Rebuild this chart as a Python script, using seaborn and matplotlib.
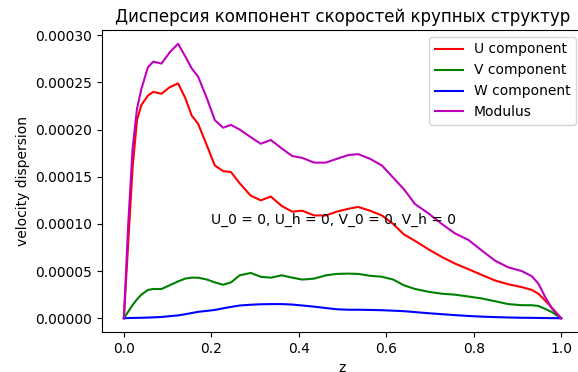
import matplotlib
matplotlib.use("Agg")
import matplotlib.pyplot as plt
import seaborn as sns
import pandas as pd

z = [0, 0.01, 0.02, 0.03, 0.04, 0.055, 0.067, 0.086, 0.105, 0.124, 0.14, 0.155, 0.17,
     0.19, 0.208, 0.227, 0.245, 0.265, 0.29, 0.313, 0.336, 0.361, 0.385, 0.408, 0.435,
     0.462, 0.487, 0.513, 0.536, 0.563, 0.59, 0.616, 0.64, 0.666, 0.697, 0.727, 0.757,
     0.788, 0.818, 0.849, 0.879, 0.91, 0.933, 0.948, 0.963, 0.979, 1.0]

u_comp = [0, 0.00008, 0.00016, 0.00021, 0.000226, 0.000236, 0.00024, 0.000238, 0.000245,
          0.000249, 0.000234, 0.000215, 0.000206, 0.000183, 0.000162, 0.000156, 0.000155,
          0.000143, 0.00013, 0.000125, 0.000129, 0.000119, 0.000113, 0.000114, 0.000109,
          0.000109, 0.000113, 0.000116, 0.000118, 0.000114, 0.000109, 0.0001, 0.000089,
          0.000082, 0.000073, 0.000065, 0.000058, 0.000052, 0.000046, 0.00004, 0.000036,
          0.000033, 0.00003, 0.000026, 0.000019, 0.000011, 0]

v_comp = [0, 0.000007, 0.000014, 0.00002, 0.000025, 0.00003, 0.000031, 0.000031, 0.000035,
          0.000039, 0.000042, 0.000043, 0.000043, 0.000041, 0.000038, 0.0000355, 0.000038,
          0.0000455, 0.000048, 0.000044, 0.000043, 0.0000455, 0.000043, 0.000041, 0.000042,
          0.0000455, 0.000047, 0.0000473, 0.000047, 0.000045, 0.000044, 0.000041, 0.000035,
          0.000031, 0.000028, 0.000026, 0.000025, 0.000023, 0.000021, 0.000018, 0.000015,
          0.0000138, 0.0000138, 0.000013, 0.00001, 0.0000065, 0]

w_comp = [0, 0.0000002, 0.0000003, 0.0000004, 0.0000005, 0.0000007, 0.0000009, 0.0000013,
          0.0000022, 0.000003, 0.0000042, 0.0000055, 0.0000068, 0.0000078, 0.0000088,
          0.0000105, 0.000012, 0.0000135, 0.0000143, 0.0000148, 0.000015, 0.000015,
          0.0000145, 0.0000135, 0.0000123, 0.0000108, 0.0000095, 0.000009, 0.000009,
          0.0000088, 0.0000085, 0.000008, 0.0000075, 0.0000065, 0.0000053, 0.0000043,
          0.0000033, 0.0000024, 0.0000017, 0.0000012, 0.0000008, 0.0000005, 0.0000004,
          0.0000003, 0.0000002, 0.0000001, 0]

modulus = [0, 0.0001, 0.00018, 0.000222, 0.000243, 0.000266, 0.000272, 0.00027, 0.000282,
           0.000291, 0.000278, 0.000265, 0.000256, 0.000233, 0.00021, 0.000202, 0.000205,
           0.0002, 0.000192, 0.000185, 0.000189, 0.00018, 0.000172, 0.00017, 0.000165,
           0.000165, 0.000169, 0.000173, 0.000174, 0.000169, 0.000162, 0.000149, 0.000137,
           0.000121, 0.000111, 0.0001, 0.00009, 0.000083, 0.000072, 0.000061, 0.000054,
           0.00005, 0.0000445, 0.0000367, 0.000023, 0.0000103, 0]

series_names = ["U component", "V component", "W component", "Modulus"]
series_colors = ["red", "green", "blue", "m"]

frames = []
for name, vals in zip(series_names, [u_comp, v_comp, w_comp, modulus]):
    frames.append(pd.DataFrame({"z": z, "value": vals, "series": name}))
df = pd.concat(frames, ignore_index=True)

fig = plt.figure(figsize=(5.78, 3.72), dpi=100)
ax = fig.add_axes([102 / 578, 40 / 372, 481 / 578, 302 / 372])

sns.lineplot(data=df, x="z", y="value", hue="series", hue_order=series_names,
             palette=dict(zip(series_names, series_colors)), linewidth=1.5,
             ax=ax, estimator=None, sort=False)

ax.set_xlabel("z")
ax.set_ylabel("velocity dispersion")
ax.set_title("Дисперсия компонент скоростей крупных структур")
ax.text(0.2, 0.0001, "U_0 = 0, U_h = 0, V_0 = 0, V_h = 0")
ax.set_xticks([0.0, 0.2, 0.4, 0.6, 0.8, 1.0])
ax.set_yticks([0, 0.00005, 0.0001, 0.00015, 0.0002, 0.00025, 0.0003])
ax.set_xlim(-0.05, 1.05)
ax.set_ylim(-0.0000146, 0.0003056)
ax.legend(loc="upper right", title=None)

fig.savefig("out.png", dpi=100)
